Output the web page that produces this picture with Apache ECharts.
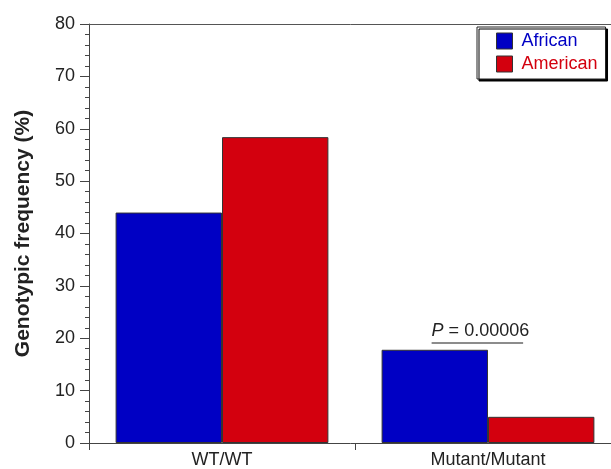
<!DOCTYPE html>
<html>
<head>
<meta charset="utf-8">
<script src="https://cdn.jsdelivr.net/npm/echarts@6/dist/echarts.min.js"></script>
<style>
  html, body { margin: 0; padding: 0; background: #fff; }
  #chart { width: 611px; height: 469px; }
</style>
</head>
<body>
<div id="chart"></div>
<script>
// ---- data ----
var categories = ['WT/WT', 'Mutant/Mutant'];
var seriesNames = ['African', 'American'];
var african = [44.0, 17.8];
var american = [58.4, 5.0];
var pLabel = '0.00006';
var pLineValue = 19.1;

var BLUE = '#0000c4';
var RED = '#d3000e';
var FONT = 'Liberation Sans, Arial, sans-serif';

var chart = echarts.init(document.getElementById('chart'));

var option = {
  backgroundColor: '#fff',
  animation: false,
  textStyle: { fontFamily: FONT },
  // plot runs past the right edge of the picture
  grid: { left: 89, top: 24, bottom: 26, width: 532, outerBoundsMode: 'none', containLabel: false },
  legend: {
    orient: 'vertical',
    left: 477, top: 27,
    padding: [5, 8, 6, 19],
    itemWidth: 16, itemHeight: 16, itemGap: 5,
    icon: 'rect',
    backgroundColor: '#fff',
    borderColor: '#222', borderWidth: 1,
    shadowColor: '#000', shadowOffsetX: 2, shadowOffsetY: 2, shadowBlur: 0,
    itemStyle: { borderColor: '#333', borderWidth: 1 },
    textStyle: { fontSize: 18, fontFamily: FONT, padding: [0, 0, 0, 4] },
    data: [
      { name: seriesNames[0], textStyle: { color: BLUE } },
      { name: seriesNames[1], textStyle: { color: RED } }
    ]
  },
  xAxis: [{
    type: 'category',
    data: categories,
    position: 'bottom',
    axisLine: { lineStyle: { color: '#444', width: 1 } },
    axisTick: { show: true, length: 7, lineStyle: { color: '#444' } },
    axisLabel: { color: '#222', fontSize: 18, margin: 8 }
  }, {
    type: 'category',
    data: categories,
    position: 'top',
    axisLine: { lineStyle: { color: '#555', width: 1 } },
    axisTick: { show: false },
    axisLabel: { show: false }
  }],
  yAxis: {
    type: 'value',
    min: 0, max: 80, interval: 10,
    name: 'Genotypic frequency (%)',
    nameLocation: 'middle',
    nameGap: 55,
    nameTextStyle: { fontSize: 21, fontWeight: 'bold', color: '#222', fontFamily: FONT },
    axisLine: { show: true, lineStyle: { color: '#444' } },
    axisTick: { show: true, length: 9, lineStyle: { color: '#444' } },
    minorTick: { show: true, splitNumber: 5, length: 4, lineStyle: { color: '#444' } },
    splitLine: { show: false },
    axisLabel: { color: '#222', fontSize: 18, margin: 14 }
  },
  series: [{
    name: seriesNames[0],
    type: 'bar',
    data: african,
    barGap: '0%',
    barCategoryGap: '20%',
    itemStyle: { color: BLUE, borderColor: '#333', borderWidth: 1 }
  }, {
    name: seriesNames[1],
    type: 'bar',
    data: american,
    barGap: '0%',
    barCategoryGap: '20%',
    itemStyle: { color: RED, borderColor: '#333', borderWidth: 1 }
  }]
};

chart.setOption(option);

// P-value annotation over the Mutant/Mutant group
function addAnnotation() {
  var c0 = chart.convertToPixel({ xAxisIndex: 0 }, categories[0]);
  var c1 = chart.convertToPixel({ xAxisIndex: 0 }, categories[1]);
  var bw = (c1 - c0) * 0.4;
  var y = chart.convertToPixel({ yAxisIndex: 0 }, pLineValue);
  var x1 = c1 - bw * 0.53;
  var x2 = c1 + bw * 0.33;
  chart.setOption({
    graphic: [{
      type: 'line',
      shape: { x1: x1, y1: y, x2: x2, y2: y },
      style: { stroke: '#666', lineWidth: 1.5 }
    }, {
      type: 'text',
      x: x1, y: y - 3,
      style: {
        text: '{i|P} = ' + pLabel,
        rich: { i: { fontStyle: 'italic', fontSize: 18, fontFamily: FONT, fill: '#222' } },
        fontSize: 18, fontFamily: FONT, fill: '#222',
        verticalAlign: 'bottom'
      }
    }]
  });
}
addAnnotation();
</script>
</body>
</html>
